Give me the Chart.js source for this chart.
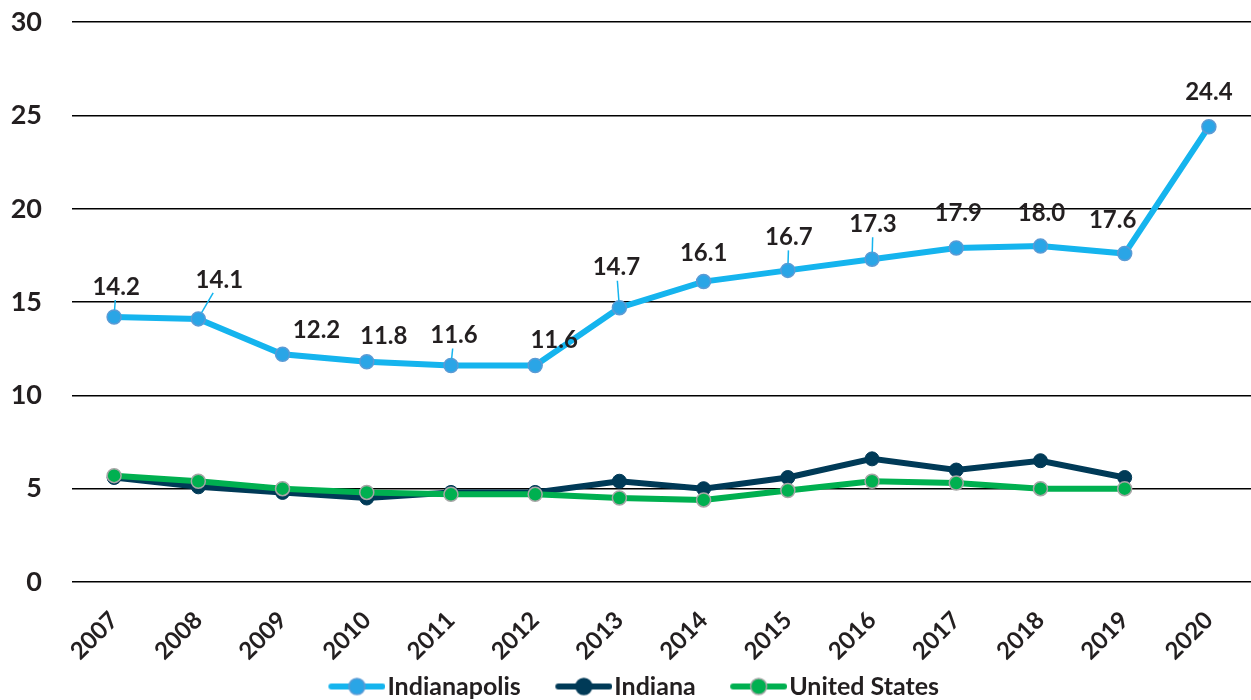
<!DOCTYPE html>
<html>
<head>
<meta charset="utf-8">
<script src="https://cdn.jsdelivr.net/npm/chart.js@4"></script>
<style>
  html, body { margin: 0; padding: 0; background: #fff; }
  #wrap { width: 1251px; height: 700px; }
</style>
</head>
<body>
<div id="wrap"><canvas id="chart"></canvas></div>
<script>
// Chart values
const years = ['2007', '2008', '2009', '2010', '2011', '2012', '2013', '2014', '2015', '2016', '2017', '2018', '2019', '2020'];
const indianapolis = [14.2, 14.1, 12.2, 11.8, 11.6, 11.6, 14.7, 16.1, 16.7, 17.3, 17.9, 18.0, 17.6, 24.4];
const indiana = [5.6, 5.1, 4.8, 4.5, 4.8, 4.8, 5.4, 5.0, 5.6, 6.6, 6.0, 6.5, 5.6, null];
const unitedStates = [5.7, 5.4, 5.0, 4.8, 4.7, 4.7, 4.5, 4.4, 4.9, 5.4, 5.3, 5.0, 5.0, null];
const yTicks = [0, 5, 10, 15, 20, 25, 30];

// label placement for the Indianapolis values: [dx, dy, leader line]
const labelOffsets = [
    [2, -30, true], [21, -39, true], [34, -24, false], [17, -26, false],
    [3, -30, true], [19, -25, false], [-3, -40, true], [0, -28, false],
    [1, -33, true], [1, -35, true], [2, -35, false], [1, -33, false],
    [-12, -33, false], [0, -34, false]
];

const textColor = '#231f20';
const fontFamily = 'Lato, "Open Sans", sans-serif';
const legendFont = 25;
const legendBox = 75;

// legend icon: line with a dot, pushed to the right end of a wider transparent canvas
function legendIcon(lineColor, dotColor, dotBorder) {
    const c = document.createElement('canvas');
    c.width = legendBox + 21;
    c.height = 20;
    const ctx = c.getContext('2d');
    const x1 = c.width - 3, x0 = c.width - 54;
    ctx.strokeStyle = lineColor;
    ctx.lineWidth = 6;
    ctx.lineCap = 'round';
    ctx.beginPath();
    ctx.moveTo(x0, 10);
    ctx.lineTo(x1, 10);
    ctx.stroke();
    ctx.beginPath();
    ctx.arc((x0 + x1) / 2, 10, 8, 0, Math.PI * 2);
    ctx.fillStyle = dotColor;
    ctx.fill();
    ctx.lineWidth = 1.5;
    ctx.strokeStyle = dotBorder;
    ctx.stroke();
    return c;
}

const icons = [
    legendIcon('#15b4ee', '#2aa5e6', '#5b9bd5'),
    legendIcon('#003a57', '#003a57', '#003a57'),
    legendIcon('#00b050', '#00b050', '#a6a6a6')
];

const valueLabels = {
    id: 'valueLabels',
    afterLayout(chart) {
        // the icons carry their spacing on the left, so nudge the legend row back to centre
        chart.legend.left -= 12;
        chart.legend.right -= 12;
    },
    afterDatasetsDraw(chart) {
        const meta = chart.getDatasetMeta(0);
        const ctx = chart.ctx;
        ctx.save();
        ctx.font = 'bold 24px ' + fontFamily;
        ctx.fillStyle = textColor;
        ctx.textAlign = 'center';
        ctx.textBaseline = 'middle';
        meta.data.forEach((pt, i) => {
            const [dx, dy, leader] = labelOffsets[i];
            const lx = pt.x + dx;
            const ly = pt.y + dy;
            if (leader) {
                ctx.strokeStyle = '#15b4ee';
                ctx.lineWidth = 1.5;
                ctx.beginPath();
                const len = Math.hypot(dx, dy);
                ctx.moveTo(pt.x + dx / len * 7, pt.y + dy / len * 7);
                ctx.lineTo(lx - dx / len * 13, ly + 13);
                ctx.stroke();
            }
            ctx.fillText(indianapolis[i].toFixed(1), lx, ly);
        });
        ctx.restore();
    }
};

new Chart(document.getElementById('chart'), {
    type: 'line',
    data: {
        labels: years,
        datasets: [
            {
                label: 'Indianapolis',
                data: indianapolis,
                borderColor: '#15b4ee',
                backgroundColor: '#2aa5e6',
                pointBackgroundColor: '#2aa5e6',
                pointBorderColor: '#5b9bd5',
                pointBorderWidth: 1.5,
                pointRadius: 7,
                borderWidth: 6,
                order: 1
            },
            {
                label: 'Indiana',
                data: indiana,
                borderColor: '#003a57',
                backgroundColor: '#003a57',
                pointBackgroundColor: '#003a57',
                pointBorderColor: '#003a57',
                pointBorderWidth: 1,
                pointRadius: 7,
                borderWidth: 6,
                order: 3
            },
            {
                label: 'United States',
                data: unitedStates,
                borderColor: '#00b050',
                backgroundColor: '#00b050',
                pointBackgroundColor: '#00b050',
                pointBorderColor: '#a6a6a6',
                pointBorderWidth: 1.5,
                pointRadius: 7,
                borderWidth: 6,
                order: 2
            }
        ]
    },
    options: {
        responsive: true,
        maintainAspectRatio: false,
        animation: false,
        layout: { autoPadding: false, padding: { top: 2, right: -4, left: 8, bottom: -9 } },
        plugins: {
            tooltip: { enabled: false },
            legend: {
                position: 'bottom',
                labels: {
                    usePointStyle: true,
                    pointStyleWidth: legendBox,
                    padding: 6,
                    color: textColor,
                    font: { family: fontFamily, size: legendFont, weight: 'bold' },
                    generateLabels(chart) {
                        const items = Chart.defaults.plugins.legend.labels.generateLabels(chart);
                        items.sort((a, b) => a.datasetIndex - b.datasetIndex);
                        items.forEach(it => { it.pointStyle = icons[it.datasetIndex]; });
                        return items;
                    }
                }
            }
        },
        scales: {
            x: {
                offset: true,
                grid: { display: false },
                border: { display: false },
                afterFit(axis) {
                    axis.height = 86;
                    axis.paddingLeft = 0;
                    axis.paddingRight = 0;
                },
                ticks: {
                    color: textColor,
                    font: { family: fontFamily, size: 24, weight: 'bold' },
                    minRotation: 45,
                    maxRotation: 45,
                    padding: 16
                }
            },
            y: {
                min: 0,
                max: 30,
                afterBuildTicks(axis) {
                    axis.ticks = yTicks.map(v => ({ value: v }));
                },
                afterFit(axis) { axis.width = 64; },
                border: { display: false },
                grid: { color: '#000', lineWidth: 1.5, drawTicks: true, tickLength: 24, tickColor: 'rgba(0,0,0,0)' },
                ticks: {
                    color: textColor,
                    padding: 6,
                    font: { family: fontFamily, size: 27, weight: 'bold' }
                }
            }
        }
    },
    plugins: [valueLabels]
});
</script>
</body>
</html>
